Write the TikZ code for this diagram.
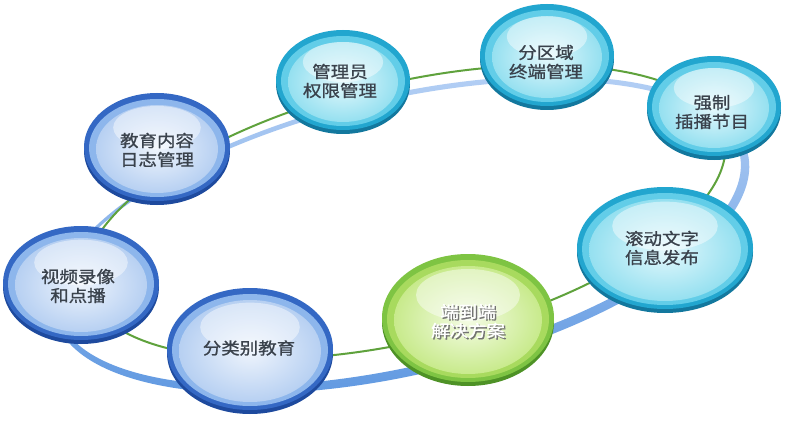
\documentclass[tikz,border=0pt]{standalone}
\usepackage{fontspec}
\newfontfamily\cjk[FakeStretch=1.12,FakeBold=1]{Noto Sans CJK SC}
\definecolor{blbase}{HTML}{1E4A9E}
\definecolor{blrim}{HTML}{3468C4}
\definecolor{blband}{HTML}{8DB6EC}
\definecolor{blmid}{HTML}{B7D0F2}
\definecolor{blin}{HTML}{EEF4FC}
\definecolor{bltext}{HTML}{3A424C}
\definecolor{cybase}{HTML}{13789E}
\definecolor{cyrim}{HTML}{22A6CF}
\definecolor{cyband}{HTML}{62CDE8}
\definecolor{cymid}{HTML}{95E0F0}
\definecolor{cyin}{HTML}{E4F8FC}
\definecolor{cytext}{HTML}{3A424C}
\definecolor{grbase}{HTML}{4E9226}
\definecolor{grrim}{HTML}{7EC443}
\definecolor{grband}{HTML}{A8DA5E}
\definecolor{grmid}{HTML}{C8EA8C}
\definecolor{grin}{HTML}{F4FCE4}
\definecolor{grtext}{HTML}{FFFFFF}
\definecolor{ringtop}{HTML}{B2CEF4}
\definecolor{ringbot}{HTML}{5C96E0}
\definecolor{ringgreen}{HTML}{5FA23C}
\tikzset{
  orbtext/.style={font=\cjk\fontsize{16.5}{19}\selectfont, align=center, inner sep=0pt},
}
\newcommand\orb[9]{%
  \fill[#6base] (#2,#3+4) ellipse [x radius=#4, y radius=#5];
  \fill[#6rim] (#2,#3) ellipse [x radius=#4, y radius=#5];
  \fill[#6band] (#2,#3+1) ellipse [x radius=#4-5, y radius=#5-5];
  \shade[inner color=#6in, outer color=#6mid] (#2,#3+2) ellipse [x radius=#4-12, y radius=#5-10];
  \fill[white, opacity=0.45] (#2,#3-#5*0.36) ellipse [x radius=#4*0.6, y radius=#5*0.4];
  \node[orbtext, text=#6text] (#1) at (#7,#8) {#9};
}
\begin{document}
\begin{tikzpicture}[x=1pt, y=-1pt]
\useasboundingbox (0,0) rectangle (787,425);
\fill[white] (0,0) rectangle (787,425);
% ring
\begin{scope}[rotate around={13.2:(400,234)}]
  \shade[top color=ringtop, bottom color=ringbot, even odd rule]
    (401,235) ellipse [x radius=356, y radius=140]
    (399,233) ellipse [x radius=350, y radius=133];
\end{scope}
\draw[ringgreen, line width=2pt, rotate around={13.45:(405,212)}]
  (405,212) ellipse [x radius=328, y radius=129];
% orbs
\orb{edu}{157}{147}{73}{54}{bl}{157}{150}{教育内容\\日志管理}
\orb{admin}{343}{80}{67}{50}{cy}{340}{81}{管理员\\权限管理}
\orb{region}{547}{55}{67}{51}{cy}{546}{62}{分区域\\终端管理}
\orb{insert}{714}{106}{67}{50}{cy}{712}{112}{强制\\插播节目}
\orb{scroll}{665}{248}{88}{61}{cy}{662}{248}{滚动文字\\信息发布}
\orb{video}{81}{283}{78}{57}{bl}{78}{286}{视频录像\\和点播}
\orb{cls}{250}{349}{83}{61}{bl}{249}{348}{分类别教育}
\fill[grbase] (468,322) ellipse [x radius=86, y radius=64];
\fill[grrim] (468,318) ellipse [x radius=86, y radius=64];
\fill[grband] (468,319) ellipse [x radius=81, y radius=59];
\shade[inner color=grin, outer color=grmid] (468,320) ellipse [x radius=74, y radius=54];
\fill[white, opacity=0.45] (468,295) ellipse [x radius=52, y radius=26];
\node[orbtext, text=black!55] (e2eshadow) at (469.5,322.5) {端到端\\解决方案};
\node[orbtext, text=white] (e2e) at (468,321) {端到端\\解决方案};
\end{tikzpicture}
\end{document}
